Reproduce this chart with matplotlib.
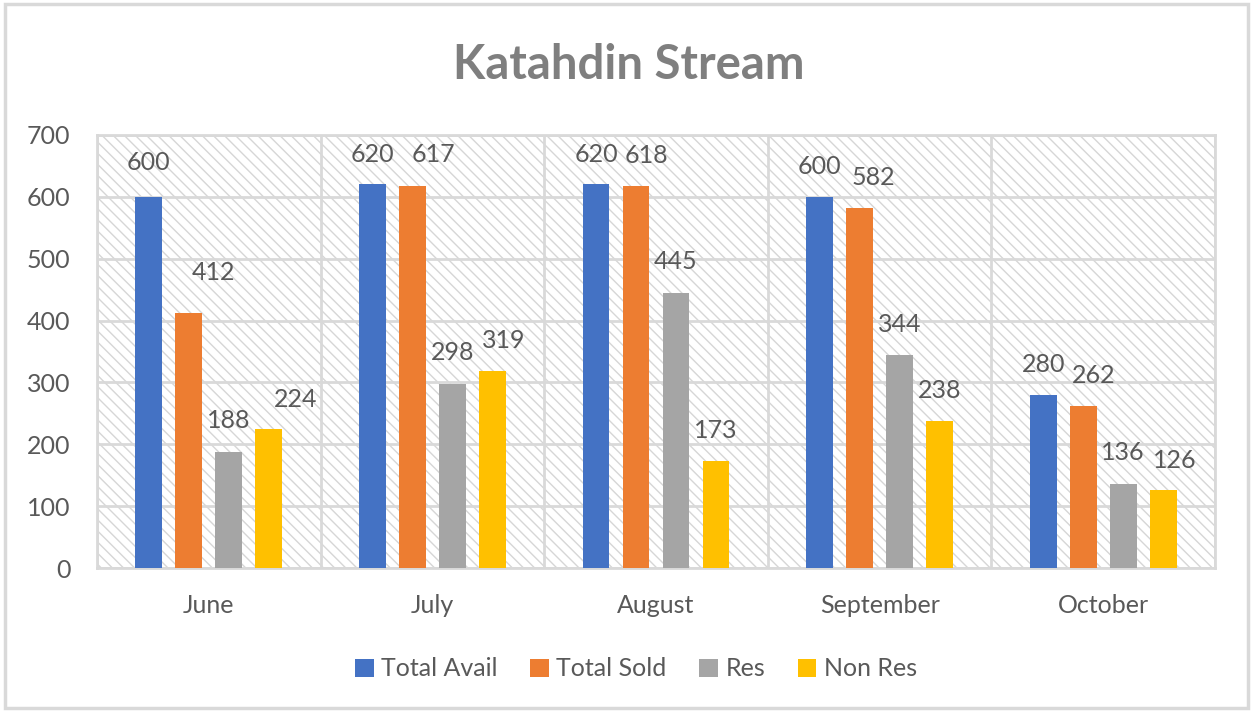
import numpy as np
import matplotlib
matplotlib.use('Agg')
import matplotlib.pyplot as plt
from matplotlib.patches import Rectangle

months = ['June', 'July', 'August', 'September', 'October']
series_names = ['Total Avail', 'Total Sold', 'Res', 'Non Res']
total_avail = [600, 620, 620, 600, 280]
total_sold = [412, 617, 618, 582, 262]
res = [188, 298, 445, 344, 136]
non_res = [224, 319, 173, 238, 126]

colors = ['#4472C4', '#ED7D31', '#A5A5A5', '#FFC000']
# label nudges in pixels (Excel moved some labels sideways)
label_dx = [
    [0, 0, 0, 0, 0],
    [25, 21, 10, 14, 10],
    [0, 0, 0, 0, 0],
    [27, 11, 0, 0, 12],
]
label_dy = [
    [34, 30, 30, 30, 30],
    [41, 32, 30, 30, 30],
    [31, 31, 31, 31, 31],
    [30, 30, 30, 30, 30],
]

plt.rcParams['font.family'] = ['Lato', 'DejaVu Sans']
plt.rcParams['hatch.linewidth'] = 1.0
txt = '#595959'
fs = 18

fig = plt.figure(figsize=(12.52, 7.12), dpi=100)
fig.patches.append(Rectangle((0.004, 0.006), 0.993, 0.988, transform=fig.transFigure,
                             fill=False, edgecolor='#D9D9D9', linewidth=2.5))
ax = fig.add_axes([97 / 1252, 1 - 568 / 712, (1215 - 97) / 1252, (568 - 135) / 712])

# hatched plot area
ax.add_patch(Rectangle((0, 0), 1, 1, transform=ax.transAxes, facecolor='white',
                       edgecolor='#D6D6D6', hatch='\\\\\\', linewidth=0, zorder=0))

x = np.arange(len(months))
width = 0.12
step = 0.179
data = [total_avail, total_sold, res, non_res]
for i, vals in enumerate(data):
    pos = x + (i - 1.5) * step
    ax.bar(pos, vals, width, color=colors[i], label=series_names[i], zorder=3)
    for j, v in enumerate(vals):
        ax.annotate(str(v), (pos[j], v), xytext=(label_dx[i][j] * 0.72, label_dy[i][j] * 0.72),
                    textcoords='offset points', ha='center', va='center',
                    fontsize=fs, color=txt, zorder=4)

ax.set_xlim(-0.5, len(months) - 0.5)
ax.set_ylim(0, 700)
ax.set_yticks(range(0, 701, 100))
ax.set_xticks(x)
ax.set_xticklabels(months)
ax.set_xticks(np.arange(-0.5, len(months), 1.0), minor=True)
ax.grid(axis='y', color='#D9D9D9', linewidth=2, zorder=1)
ax.grid(axis='x', which='minor', color='#D9D9D9', linewidth=2, zorder=1)
ax.grid(axis='x', which='major', visible=False)
ax.set_axisbelow(True)
for s in ax.spines.values():
    s.set_color('#D9D9D9')
    s.set_linewidth(2)
ax.tick_params(axis='both', which='both', length=0, labelsize=fs, labelcolor=txt)
ax.tick_params(axis='y', pad=19)
ax.tick_params(axis='x', pad=19)

fig.suptitle('Katahdin Stream', x=0.502, y=1 - 65 / 712, va='center',
             fontsize=34, fontweight='bold', color='#7F7F7F')

ax.legend(loc='center', bbox_to_anchor=(0.508, 1 - 669 / 712), bbox_transform=fig.transFigure,
          ncol=4, frameon=False, fontsize=fs, labelcolor=txt, handlelength=0.75,
          handleheight=0.75, handletextpad=0.3, columnspacing=1.3)

fig.savefig('out.png', dpi=100)
